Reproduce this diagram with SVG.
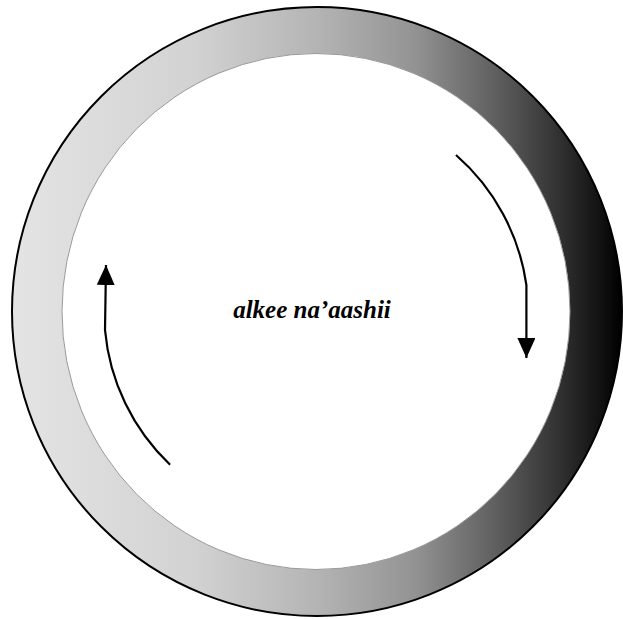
<svg xmlns="http://www.w3.org/2000/svg" width="623" height="619" viewBox="0 0 623 619">
  <style>
    .arrow { fill: none; stroke: #000; stroke-width: 2.2; marker-end: url(#head); }
    .label { font-family: "Liberation Serif", "Times New Roman", serif; font-weight: bold; font-style: italic; font-size: 25px; fill: #000; }
  </style>
  <defs>
    <linearGradient id="ringGrad" gradientUnits="userSpaceOnUse" x1="12" y1="0" x2="622" y2="0">
      <stop offset="0" stop-color="#e4e4e4"/>
      <stop offset="0.3" stop-color="#d2d2d2"/>
      <stop offset="0.5" stop-color="#b4b4b4"/>
      <stop offset="0.66" stop-color="#939393"/>
      <stop offset="0.8" stop-color="#5c5c5c"/>
      <stop offset="0.9" stop-color="#303030"/>
      <stop offset="1" stop-color="#000000"/>
    </linearGradient>
    <marker id="head" viewBox="0 0 20 18" refX="20" refY="9" markerWidth="20" markerHeight="18" markerUnits="userSpaceOnUse" orient="auto">
      <path d="M0,0 L20,9 L0,18 z" fill="#000"/>
    </marker>
  </defs>
  <rect width="623" height="619" fill="#ffffff"/>
  <g id="ring">
    <ellipse cx="317" cy="311.5" rx="305" ry="304.5" fill="url(#ringGrad)" stroke="#000" stroke-width="2"/>
    <ellipse cx="316" cy="311.5" rx="254" ry="258" fill="#ffffff" stroke="#9a9a9a" stroke-width="1"/>
  </g>
  <g id="connectors">
    <path class="arrow" d="M456,155 A212,212 0 0 1 526.4,285 L526.4,358"/>
    <path class="arrow" d="M170.1,464.8 A212,212 0 0 1 105,330 L106,265"/>
  </g>
  <g id="center-label">
    <text class="label" x="312" y="318" text-anchor="middle">alkee na’aashii</text>
  </g>
</svg>
